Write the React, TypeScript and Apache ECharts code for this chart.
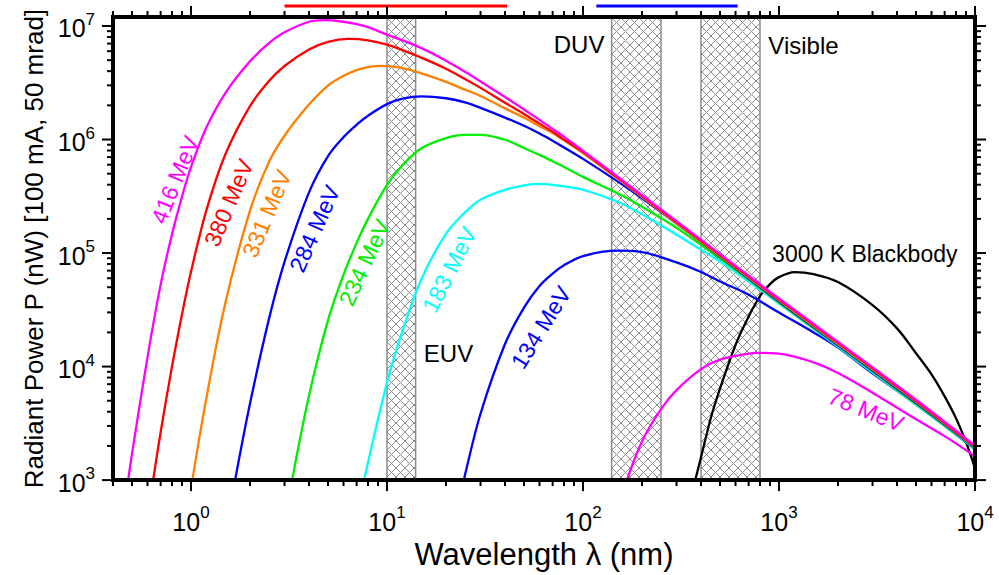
import React, { useEffect, useRef } from "react";
import * as echarts from "echarts";

const FONT = "'Liberation Sans', Arial, Helvetica, sans-serif";

// ---- data: [wavelength (nm), radiant power (nW)] ----
const e416: number[][] = [
  [0.478, 1000], [0.5, 1700], [0.6, 12100], [0.7, 52700], [0.8, 146000], [0.9, 315000], [1, 572000],
  [1.2, 1280000], [1.5, 2580000], [2, 4880000], [2.5, 7050000], [3, 8790000], [4, 10900000],
  [4.8, 11260000], [6, 10900000], [7, 10400000], [8, 9780000], [10, 8390000], [12, 7460000],
  [15, 6380000], [20, 4950000], [25, 3950000], [30, 3250000], [40, 2370000], [50, 1840000],
  [60, 1490000], [70, 1240000], [80, 1060000], [100, 793000], [150, 471000], [200, 323000],
  [300, 191000], [500, 97800], [700, 63300], [1000, 39800], [2000, 16500], [5000, 5100], [10000, 2010],
];
const e380: number[][] = [
  [0.641, 1000], [0.7, 2640], [0.8, 10000], [0.9, 28900], [1, 68400], [1.2, 240000], [1.5, 746000],
  [2, 1970000], [2.5, 3270000], [3, 4440000], [4, 6210000], [5, 7250000], [6.35, 7690000],
  [8, 7470000], [10, 6850000], [12, 6130000], [15, 5250000], [20, 4200000], [25, 3410000],
  [30, 2850000], [40, 2110000], [50, 1680000], [60, 1380000], [70, 1170000], [80, 1000000],
  [100, 775000], [150, 462000], [200, 317000], [300, 187000], [500, 95800], [700, 62000],
  [1000, 39000], [2000, 16200], [5000, 5000], [10000, 1970],
];
const e331: number[][] = [
  [1.016, 1000], [1.2, 5350], [1.5, 36800], [2, 236000], [2.5, 633000], [3, 1080000], [4, 2030000],
  [5, 2990000], [6, 3640000], [7, 4090000], [8, 4350000], [9.38, 4460000], [12, 4260000],
  [15, 3820000], [20, 3220000], [25, 2750000], [30, 2420000], [40, 1880000], [50, 1560000],
  [60, 1310000], [70, 1140000], [80, 982000], [100, 758000], [150, 452000], [200, 311000],
  [300, 183000], [500, 93900], [700, 60800], [1000, 38200], [2000, 15800], [5000, 4900], [10000, 1950],
];
const e284: number[][] = [
  [1.679, 1000], [2, 4720], [2.5, 26300], [3, 83700], [4, 342000], [5, 715000], [6, 1050000],
  [7, 1350000], [8, 1620000], [10, 2050000], [12, 2290000], [15, 2400000], [20, 2310000],
  [25, 2120000], [30, 1900000], [40, 1560000], [50, 1320000], [60, 1130000], [70, 976000],
  [80, 852000], [100, 675000], [150, 428000], [200, 304000], [300, 182000], [500, 93000],
  [700, 59600], [1000, 37400], [2000, 15500], [5000, 4800], [10000, 1930],
];
const e234: number[][] = [
  [3.28, 1000], [4, 5540], [5, 25500], [6, 64500], [7, 123000], [8, 200000], [10, 398000],
  [12, 595000], [15, 837000], [20, 1030000], [25, 1100000], [30, 1100000], [40, 995000],
  [50, 843000], [60, 732000], [70, 643000], [80, 573000], [100, 469000], [150, 336000],
  [200, 256000], [300, 167000], [500, 89300], [700, 58400], [1000, 36700], [2000, 15200],
  [5000, 4700], [10000, 1910],
];
const e183: number[][] = [
  [7.64, 1000], [8, 1430], [10, 7220], [12, 20600], [15, 59100], [20, 148000], [25, 228000],
  [30, 295000], [40, 361000], [50, 395000], [60, 407000], [70, 399000], [80, 387000],
  [100, 361000], [150, 283000], [200, 220000], [300, 145000], [400, 107000], [500, 84000],
  [700, 56100], [1000, 35900], [2000, 14900], [5000, 4610], [10000, 1890],
];
const e134: number[][] = [
  [24.7, 1000], [25, 1116], [30, 3840], [40, 15800], [50, 33100], [60, 51300], [70, 66000],
  [80, 78100], [100, 94100], [150, 105000], [200, 102000], [300, 82700], [400, 68100],
  [500, 56100], [700, 43000], [1000, 29900], [1500, 20000], [2000, 14700], [3000, 8710],
  [5000, 4650], [7000, 3010], [10000, 1870],
];
const e78: number[][] = [
  [167.5, 1000], [200, 2190], [250, 4210], [300, 6200], [400, 9490], [500, 11500], [700, 13000],
  [780, 13200], [1000, 13000], [1500, 10900], [2000, 8770], [3000, 5890], [5000, 3440],
  [7000, 2440], [10000, 1620],
];
const bb3000: number[][] = [
  [373.7, 1000], [400, 1590], [450, 3580], [500, 6390], [600, 15500], [700, 27600], [800, 41800],
  [900, 53300], [1000, 61400], [1200, 68000], [1500, 65300], [2000, 55500], [3000, 34800],
  [4000, 21700], [5000, 13100], [6000, 8540], [7000, 5470], [8000, 3510], [9000, 2160], [10000, 1270],
];

// wavelength ranges (nm)
const hatchBands: number[][] = [[10, 14], [140, 250], [400, 800]];
const topRedRange = [3, 41];
const topBlueRange = [117, 615];

// annotations: text, anchor [nm, nW], rotation (deg)
const annText = ["416 MeV", "380 MeV", "331 MeV", "284 MeV", "234 MeV", "183 MeV", "134 MeV", "78 MeV", "EUV", "DUV", "Visible", "3000 K Blackbody"];
const annAt: number[][] = [
  [0.829, 442000], [1.561, 277000], [2.437, 222000], [4.28, 164000], [7.69, 82400], [20.8, 71400],
  [61.1, 22100], [2780, 4150], [20.6, 13100], [95.5, 6920000], [1333, 6780000], [2740, 98900],
];
const annRot = [68, 67, 67, 66, 65, 63, 58, -22, 0, 0, 0, 0];
const annColor = ["#ff00ff", "#ff0000", "#ff8000", "#0000ff", "#00ee00", "#00ffff", "#0000ff", "#ff00ff", "#000", "#000", "#000", "#000"];
const annSize = [23, 23, 23, 23, 23, 23, 23, 23, 24, 24, 24, 23];

const X_MIN = 0.4, X_MAX = 10000, Y_MIN = 1000, Y_MAX = 1.2e7;

function isPow10(v: number) {
  const l = Math.log10(v);
  return Math.abs(l - Math.round(l)) < 1e-6;
}
function logTicks(min: number, max: number) {
  const major: number[] = [], minor: number[] = [];
  for (let e = Math.floor(Math.log10(min)); e <= Math.ceil(Math.log10(max)); e++) {
    for (let m = 1; m <= 9; m++) {
      const v = m * Math.pow(10, e);
      if (v >= min * (1 - 1e-9) && v <= max * (1 + 1e-9)) (m === 1 ? major : minor).push(v);
    }
  }
  return { major, minor };
}
function hatch(x0: number, y0: number, x1: number, y1: number, d: number) {
  const segs: number[][] = [];
  for (let k = Math.ceil((x0 + y0) / d) * d; k <= x1 + y1; k += d) {
    const xs = Math.max(x0, k - y1), xe = Math.min(x1, k - y0);
    if (xe > xs) segs.push([xs, k - xs, xe, k - xe]);
  }
  for (let k = Math.ceil((x0 - y1) / d) * d; k <= x1 - y0; k += d) {
    const xs = Math.max(x0, k + y0), xe = Math.min(x1, k + y1);
    if (xe > xs) segs.push([xs, xs - k, xe, xe - k]);
  }
  return segs;
}

const curves = [
  { name: "3000 K Blackbody", data: bb3000, color: "#000000" },
  { name: "78 MeV", data: e78, color: "#ff00ff" },
  { name: "134 MeV", data: e134, color: "#0000ff" },
  { name: "183 MeV", data: e183, color: "#00ffff" },
  { name: "234 MeV", data: e234, color: "#00ee00" },
  { name: "284 MeV", data: e284, color: "#0000ff" },
  { name: "331 MeV", data: e331, color: "#ff8000" },
  { name: "380 MeV", data: e380, color: "#ff0000" },
  { name: "416 MeV", data: e416, color: "#ff00ff" },
];

export default function App() {
  const ref = useRef<HTMLDivElement>(null);
  useEffect(() => {
    if (!ref.current) return;
    const chart = echarts.init(ref.current, null, { renderer: "svg" });
    const xt = logTicks(X_MIN, X_MAX);
    const yt = logTicks(Y_MIN, Y_MAX);
    const tickData: number[][] = [];
    xt.major.forEach((v) => tickData.push([v, Y_MIN, 0]));
    xt.minor.forEach((v) => tickData.push([v, Y_MIN, 1]));
    yt.major.forEach((v) => tickData.push([X_MIN, v, 2]));
    yt.minor.forEach((v) => tickData.push([X_MIN, v, 3]));

    const labelFmt = (v: number) => (isPow10(v) ? `{b|10}{s|${Math.round(Math.log10(v))}}` : "");
    const rich = {
      b: { fontSize: 25, fontFamily: FONT, color: "#000", verticalAlign: "bottom", lineHeight: 30 },
      s: { fontSize: 17, fontFamily: FONT, color: "#000", verticalAlign: "top", lineHeight: 14 },
    };

    const option: any = {
      animation: false,
      backgroundColor: "#fff",
      grid: [
        { left: 113, right: 24, top: 17, bottom: 93, show: true, borderColor: "#000", borderWidth: 4, backgroundColor: "transparent", z: 10 },
        { left: 113, right: 24, top: 0, height: 12, show: false },
      ],
      xAxis: [
        {
          type: "log", logBase: 10, min: X_MIN, max: X_MAX, gridIndex: 0,
          axisLine: { show: false }, axisTick: { show: false }, splitLine: { show: false },
          axisLabel: { formatter: labelFmt, rich, margin: 24 },
          name: "Wavelength λ (nm)", nameLocation: "middle", nameGap: 56,
          nameTextStyle: { fontSize: 31, fontFamily: FONT, color: "#000" },
        },
        { type: "log", logBase: 10, min: X_MIN, max: X_MAX, gridIndex: 1, show: false },
      ],
      yAxis: [
        {
          type: "log", logBase: 10, min: Y_MIN, max: Y_MAX, gridIndex: 0,
          axisLine: { show: false }, axisTick: { show: false }, splitLine: { show: false },
          axisLabel: { formatter: labelFmt, rich, margin: 18 },
          name: "Radiant Power P (nW) [100 mA, 50 mrad]", nameLocation: "middle", nameGap: 62,
          nameTextStyle: { fontSize: 26, fontFamily: FONT, color: "#000" },
        },
        { type: "value", min: 0, max: 1, gridIndex: 1, show: false },
      ],
      series: [
        {
          type: "custom", z: 1, silent: true, xAxisIndex: 0, yAxisIndex: 0,
          data: hatchBands.map((b) => [b[0], Y_MIN, b[1]]),
          renderItem: (params: any, api: any) => {
            const cs = params.coordSys;
            const xa = api.coord([api.value(0), Y_MIN])[0];
            const xb = api.coord([api.value(2), Y_MIN])[0];
            const top = cs.y, bottom = cs.y + cs.height;
            const children: any[] = [
              { type: "rect", shape: { x: xa, y: top, width: xb - xa, height: bottom - top }, style: { fill: "#fff" } },
            ];
            hatch(xa, top, xb, bottom, 9).forEach((s) =>
              children.push({ type: "line", shape: { x1: s[0], y1: s[1], x2: s[2], y2: s[3] }, style: { stroke: "#8c8c8c", lineWidth: 1 } })
            );
            children.push({ type: "line", shape: { x1: xa, y1: top, x2: xa, y2: bottom }, style: { stroke: "#8c8c8c", lineWidth: 1.5 } });
            children.push({ type: "line", shape: { x1: xb, y1: top, x2: xb, y2: bottom }, style: { stroke: "#8c8c8c", lineWidth: 1.5 } });
            return { type: "group", children };
          },
        },
        ...curves.map((c) => ({
          type: "line", name: c.name, data: c.data, z: 3, xAxisIndex: 0, yAxisIndex: 0,
          showSymbol: false, symbol: "none", smooth: 0.35, silent: true,
          lineStyle: { color: c.color, width: 2.3 }, itemStyle: { color: c.color },
        })),
        {
          type: "line", xAxisIndex: 1, yAxisIndex: 1, symbol: "none", silent: true,
          data: [[topRedRange[0], 0.5], [topRedRange[1], 0.5]], lineStyle: { color: "#ff0000", width: 3 },
        },
        {
          type: "line", xAxisIndex: 1, yAxisIndex: 1, symbol: "none", silent: true,
          data: [[topBlueRange[0], 0.5], [topBlueRange[1], 0.5]], lineStyle: { color: "#0000ff", width: 3 },
        },
        {
          type: "custom", z: 6, silent: true, xAxisIndex: 0, yAxisIndex: 0,
          data: annAt,
          renderItem: (params: any, api: any) => {
            const i = params.dataIndex;
            const p = api.coord([api.value(0), api.value(1)]);
            return {
              type: "text", x: p[0], y: p[1], rotation: (annRot[i] * Math.PI) / 180,
              style: { text: annText[i], fill: annColor[i], fontSize: annSize[i], fontFamily: FONT, align: "center", verticalAlign: "middle" },
            };
          },
        },
        {
          type: "custom", z: 12, silent: true, xAxisIndex: 0, yAxisIndex: 0,
          data: tickData,
          renderItem: (params: any, api: any) => {
            const cs = params.coordSys;
            const kind = api.value(2);
            const p = api.coord([api.value(0), api.value(1)]);
            const st = { stroke: "#000", lineWidth: 2 };
            if (kind < 2) {
              const len = kind === 0 ? 11 : 6;
              const x = p[0];
              const b = cs.y + cs.height, t = cs.y;
              return {
                type: "group",
                children: [
                  { type: "line", shape: { x1: x, y1: b, x2: x, y2: b + len }, style: st },
                  { type: "line", shape: { x1: x, y1: t, x2: x, y2: t - len }, style: st },
                ],
              };
            }
            const len = kind === 2 ? 11 : 6;
            const y = p[1];
            const l = cs.x, r = cs.x + cs.width;
            return {
              type: "group",
              children: [
                { type: "line", shape: { x1: l, y1: y, x2: l - len, y2: y }, style: st },
                { type: "line", shape: { x1: r, y1: y, x2: r + len, y2: y }, style: st },
              ],
            };
          },
        },
      ],
    };
    chart.setOption(option);
    return () => chart.dispose();
  }, []);
  return <div ref={ref} style={{ position: "absolute", left: 0, top: 0, width: 999, height: 575 }} />;
}
